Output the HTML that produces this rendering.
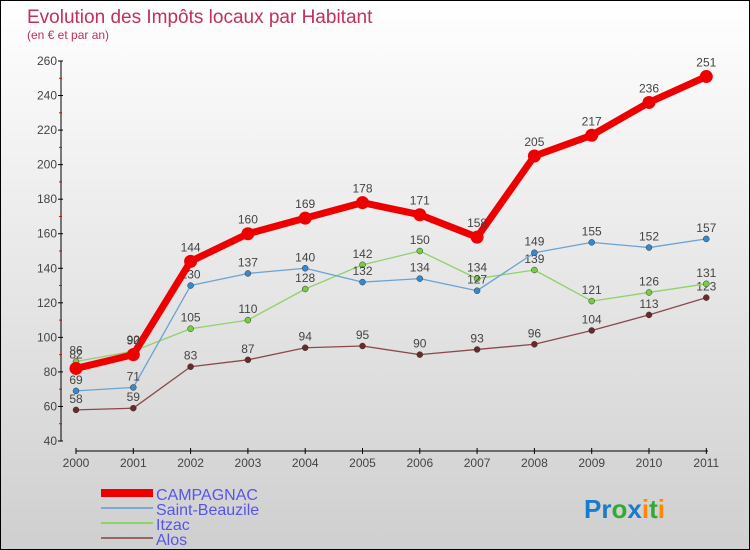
<!DOCTYPE html>
<html><head><meta charset="utf-8"><style>
body{margin:0}
#c{position:relative;width:748px;height:548px;border:1px solid #000;background:linear-gradient(#fff,#cfcfcf);font-family:"Liberation Sans",sans-serif;overflow:hidden}
</style></head><body>
<div id="c">
<svg id="s" width="748" height="548" style="position:absolute;left:0;top:0">
<text x="26" y="22" font-size="19" fill="#c0305a">Evolution des Impôts locaux par Habitant</text>
<text x="26" y="38" font-size="12" fill="#c0305a">(en € et par an)</text>
<g id="axes"></g><g id="series"></g>
<g>
<rect x="100" y="488" width="52" height="8" fill="#e00"/>
<text x="155" y="499" font-size="16" fill="#5555ee">CAMPAGNAC</text>
<line x1="100" y1="507" x2="152" y2="507" stroke="#7aaad4" stroke-width="2"/>
<text x="155" y="514" font-size="16" fill="#5555ee">Saint-Beauzile</text>
<line x1="100" y1="522" x2="152" y2="522" stroke="#8ed26a" stroke-width="2"/>
<text x="155" y="529" font-size="16" fill="#5555ee">Itzac</text>
<line x1="100" y1="537" x2="152" y2="537" stroke="#996666" stroke-width="2"/>
<text x="155" y="544" font-size="16" fill="#5555ee">Alos</text>
</g>
<g font-size="26" font-weight="bold">
<text x="583" y="517"><tspan fill="#1a7acc">Pr</tspan><tspan fill="#3a3">o</tspan><tspan fill="#1a7acc">x</tspan><tspan fill="#f80">i</tspan><tspan fill="#3a3">t</tspan><tspan fill="#f80">i</tspan></text>
</g>
</svg>
</div>
<script>
const years=["2000","2001","2002","2003","2004","2005","2006","2007","2008","2009","2010","2011"];
const yTicks=[40,60,80,100,120,140,160,180,200,220,240,260];
const campagnac=[82,90,144,160,169,178,171,158,205,217,236,251];
const saintBeauzile=[69,71,130,137,140,132,134,127,149,155,152,157];
const itzac=[86,92,105,110,128,142,150,134,139,121,126,131];
const alos=[58,59,83,87,94,95,90,93,96,104,113,123];
const NS="http://www.w3.org/2000/svg";
const X=i=>75+i*57.3;
const Y=v=>440-(v-40)*380/220;
function mk(t,a,p){const e=document.createElementNS(NS,t);for(const k in a)e.setAttribute(k,a[k]);p.appendChild(e);return e;}
const ax=document.getElementById('axes');
let l=mk('line',{x1:60,y1:60,x2:60,y2:440,stroke:'#000'},ax);


yTicks.forEach(v=>{
 mk('line',{x1:57,x2:62,y1:Y(v),y2:Y(v),stroke:'#000'},ax);
 if(v<260)mk('line',{x1:58,x2:61,y1:Y(v+10),y2:Y(v+10),stroke:'#e00'},ax);
 const t=mk('text',{x:56,y:Y(v)+4,'text-anchor':'end','font-size':12,fill:'#444'},ax);t.textContent=v;
 
 
});
l=mk('line',{x1:75,y1:450,x2:707,y2:450,stroke:'#000'},ax);


years.forEach((y,i)=>{
 mk('line',{x1:X(i),x2:X(i),y1:447,y2:453,stroke:'#000'},ax);
 const t=mk('text',{x:X(i),y:466,'text-anchor':'middle','font-size':12,fill:'#444'},ax);t.textContent=y;
 
 
});
const sg=document.getElementById('series');
function draw(d,name,col,dot,w,r){
 const g=mk('g',{},sg);
 
 
 const p=mk('polyline',{points:d.map((v,i)=>X(i)+','+Y(v)).join(' '),fill:'none',stroke:col,'stroke-width':w,'stroke-linejoin':'round'},g);
 
 
 d.forEach((v,i)=>{
  const c=mk('circle',{cx:X(i),cy:Y(v),r:r,fill:dot,stroke:r>4?'none':'#333','stroke-width':0.5},g);
  
  
  const t=mk('text',{x:X(i),y:Y(v)-(r>4?10:7),'text-anchor':'middle','font-size':12,fill:'#444'},g);t.textContent=v;
  
  
 });
}
draw(alos,'alos','#8a4a4a','#6a2a2a',1.3,3);
draw(itzac,'itzac','#8ed26a','#7acc44',1.3,3);
draw(saintBeauzile,'saint-beauzile','#6aa2d4','#3a88cc',1.3,3);
draw(campagnac,'campagnac','#e00','#e00',7,6.5);
</script>
</body></html>
